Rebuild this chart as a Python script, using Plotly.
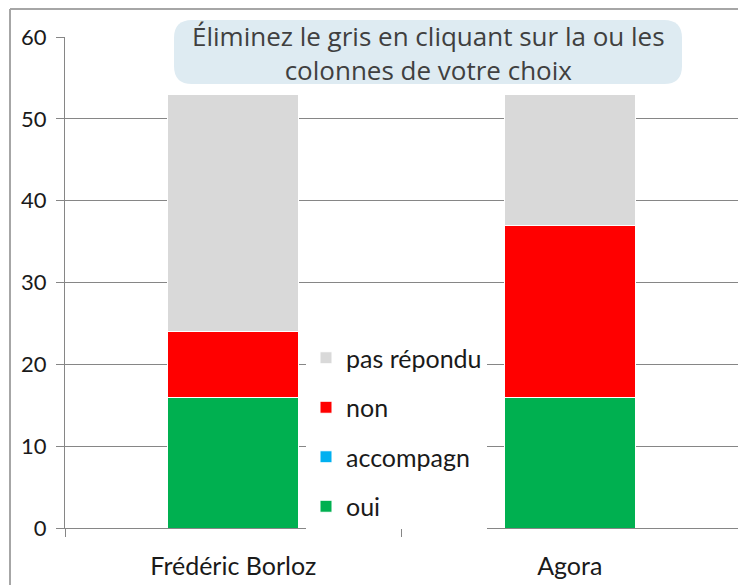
import plotly.graph_objects as go

categories = ["Frédéric Borloz", "Agora"]
oui = [16, 16]
accompagn = [0, 0]
non = [8, 21]
pas_repondu = [29, 16]
y_ticks = [0, 10, 20, 30, 40, 50, 60]
title_text = "Éliminez le gris en cliquant sur la ou les<br>colonnes de votre choix"

# page is offset by the 8px body margin
OFF = 8
W, H = 746 - OFF, 585 - OFF
# plot area in page pixels: x 65..738, y 37..528
PX0, PX1, PY0, PY1 = 65, 738, 37, 528
L, T = PX0 - OFF, PY0 - OFF
R = W - (PX1 - OFF)
B = H - (PY1 - OFF)
PW, PH = PX1 - PX0, PY1 - PY0


def px(x):
    return (x - PX0) / PW


def py(y):
    return (PY1 - y) / PH


series = [
    ("oui", oui, "#00b050", 4),
    ("accompagn", accompagn, "#00b0f0", 3),
    ("non", non, "#ff0000", 2),
    ("pas répondu", pas_repondu, "#d9d9d9", 1),
]

fig = go.Figure()
for name, vals, col, rank in series:
    fig.add_trace(go.Bar(
        x=categories, y=vals, name=name, legendgroup=name, legendrank=rank,
        marker=dict(color=col, line=dict(color="white", width=1)),
    ))

FONT = "Lato, Noto Sans, sans-serif"
TXT = "#1a1a1a"

fig.update_layout(
    width=W, height=H,
    margin=dict(l=L, r=R, t=T, b=B, autoexpand=False),
    barmode="stack", bargap=0.61,
    plot_bgcolor="white", paper_bgcolor="white",
    legend=dict(
        x=px(306), y=py(335), xanchor="left", yanchor="top",
        bgcolor="white", font=dict(family=FONT, size=25, color=TXT),
        traceorder="grouped", tracegroupgap=14, itemwidth=30,
    ),
    xaxis=dict(
        showline=True, linecolor="#868686", linewidth=1,
        ticks="outside", tickson="boundaries", ticklen=8, tickcolor="#868686",
        tickfont=dict(family=FONT, size=25, color=TXT),
        ticklabelstandoff=16, showgrid=False,
    ),
    yaxis=dict(
        range=[0, 60], tickvals=y_ticks, showline=True, linecolor="#868686",
        linewidth=1, ticks="outside", ticklen=8, tickcolor="#868686",
        gridcolor="#868686", gridwidth=1,
        tickfont=dict(family=FONT, size=22, color=TXT),
        ticklabelstandoff=5, zeroline=False,
    ),
)

# outer frame (top and left edges)
fig.add_shape(type="line", xref="paper", yref="paper",
              x0=px(10), x1=px(746), y0=py(9), y1=py(9),
              line=dict(color="#a6a6a6", width=2))
fig.add_shape(type="line", xref="paper", yref="paper",
              x0=px(10), x1=px(10), y0=py(9), y1=py(585),
              line=dict(color="#a6a6a6", width=2))

# rounded title box
x0, x1, y0, y1 = px(174), px(682), py(20), py(84)
rx, ry = 18 / PW, 18 / PH
path = (f"M {x0+rx},{y0} L {x1-rx},{y0} Q {x1},{y0} {x1},{y0-ry} "
        f"L {x1},{y1+ry} Q {x1},{y1} {x1-rx},{y1} L {x0+rx},{y1} "
        f"Q {x0},{y1} {x0},{y1+ry} L {x0},{y0-ry} Q {x0},{y0} {x0+rx},{y0} Z")
fig.add_shape(type="path", xref="paper", yref="paper", path=path,
              fillcolor="#deebf2", line=dict(width=0), layer="above")
fig.add_annotation(xref="paper", yref="paper", x=px(428), y=py(53),
                   text=title_text, showarrow=False,
                   font=dict(family="Open Sans, sans-serif", size=26, color="#404040"),
                   xanchor="center", yanchor="middle")

fig.write_html("out.html")
